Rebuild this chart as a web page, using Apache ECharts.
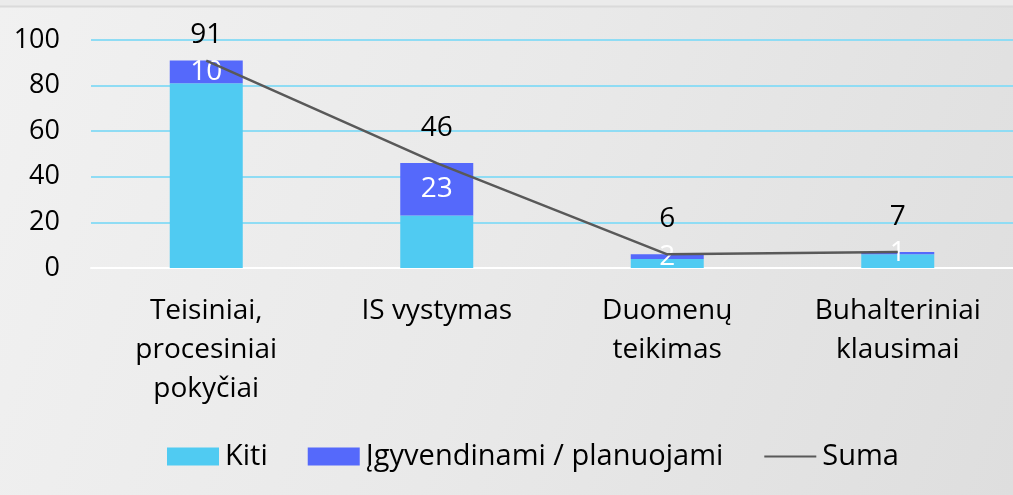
<!DOCTYPE html>
<html>
<head>
    <meta charset="utf-8">
    <title>Suma</title>
    <script src="https://cdn.jsdelivr.net/npm/echarts@6/dist/echarts.min.js"></script>
    <style>
        html, body {
            margin: 0;
            padding: 0;
        }
        #chart {
            width: 1013px;
            height: 495px;
            background: linear-gradient(110deg, #f1f1f1 0%, #e9e9e9 50%, #dedede 100%);
        }
    </style>
</head>
<body>
    <div id="chart"></div>
    <script type="text/javascript">
        var categories = ['Teisiniai,\nprocesiniai\npokyčiai', 'IS vystymas', 'Duomenų\nteikimas', 'Buhalteriniai\nklausimai'];
        var kiti = [81, 23, 4, 6];
        var igyvendinami = [10, 23, 2, 1];
        var suma = [91, 46, 6, 7];
        var yTicks = [0, 20, 40, 60, 80, 100];

        var font = 'Open Sans';
        var fs = 27;

        var chart = echarts.init(document.getElementById('chart'));

        var option = {
            backgroundColor: 'transparent',
            textStyle: { fontFamily: font },
            animation: false,
            graphic: [{
                type: 'rect',
                shape: { x: 0, y: 0, width: 1013, height: 6 },
                style: { fill: '#ebebeb' }
            }, {
                type: 'line',
                shape: { x1: 0, y1: 6.5, x2: 1013, y2: 6.5 },
                style: { stroke: '#dadada', lineWidth: 2 }
            }],
            legend: {
                top: 437,
                left: 162,
                itemWidth: 52,
                itemHeight: 18,
                itemGap: 40,
                textStyle: { fontSize: 29, color: '#000', fontFamily: font, padding: [0, 0, 0, 1] },
                data: [
                    { name: 'Kiti', icon: 'rect' },
                    { name: 'Įgyvendinami / planuojami', icon: 'rect' },
                    { name: 'Suma', itemStyle: { opacity: 0 } }
                ]
            },
            grid: {
                left: 91,
                top: 40,
                width: 932,
                height: 228
            },
            xAxis: {
                type: 'category',
                data: categories,
                axisLine: { lineStyle: { color: '#ffffff', width: 2 } },
                axisTick: { show: false },
                axisLabel: {
                    fontSize: 28,
                    color: '#000',
                    lineHeight: 39,
                    margin: 24,
                    interval: 0
                }
            },
            yAxis: {
                type: 'value',
                min: yTicks[0],
                max: yTicks[yTicks.length - 1],
                interval: 20,
                axisLine: { show: false },
                axisTick: { show: false },
                axisLabel: { fontSize: fs, color: '#000', margin: 31 },
                splitLine: { lineStyle: { color: '#8fdcf4', width: 2 } }
            },
            series: [{
                name: 'Kiti',
                type: 'bar',
                stack: 'total',
                barWidth: 73,
                data: kiti,
                itemStyle: { color: '#50cbf2' }
            }, {
                name: 'Įgyvendinami / planuojami',
                type: 'bar',
                stack: 'total',
                data: igyvendinami,
                itemStyle: { color: '#5569fb' },
                label: {
                    show: true,
                    position: 'inside',
                    color: '#fff',
                    fontSize: 28,
                    fontFamily: font
                }
            }, {
                name: 'Suma',
                type: 'line',
                data: suma.map(function (v, i) {
                    return i === 0 ? { value: v, label: { distance: 11 } } : v;
                }),
                symbol: 'circle',
                symbolSize: 1,
                showSymbol: true,
                lineStyle: { color: '#595959', width: 2.5 },
                itemStyle: { color: 'rgba(0,0,0,0)' },
                label: {
                    show: true,
                    position: 'top',
                    distance: 21,
                    color: '#000',
                    fontSize: 28,
                    fontFamily: font
                },
                z: 5
            }]
        };

        chart.setOption(option);
    </script>
</body>
</html>
